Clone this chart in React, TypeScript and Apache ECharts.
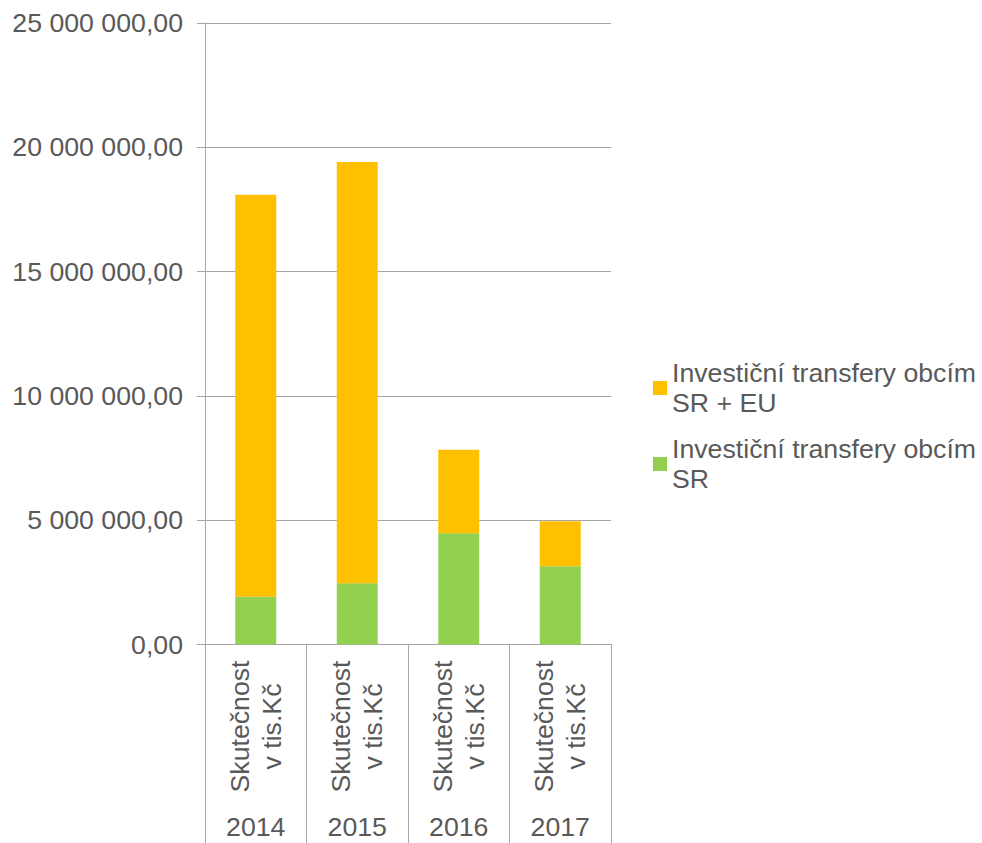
import React, { useEffect, useRef } from "react";
import * as echarts from "echarts";

const categories = ["Skutečnost\nv tis.Kč", "Skutečnost\nv tis.Kč", "Skutečnost\nv tis.Kč", "Skutečnost\nv tis.Kč"];
const years = ["2014", "2015", "2016", "2017"];
const nameSR = "Investiční transfery obcím SR";
const nameSREU = "Investiční transfery obcím SR + EU";
const valuesSR = [1924000, 2463000, 4475000, 3147000];
const valuesSREU = [16166000, 16947000, 3355000, 1813000];
const yTicks = { min: 0, max: 25000000, interval: 5000000 };

const FONT = "'Liberation Sans', Arial, sans-serif";
const TEXT = "#595959";
const LINE = "#a6a6a6";

function fmt(v: number): string {
  return Math.round(v).toString().replace(/\B(?=(\d{3})+(?!\d))/g, " ") + ",00";
}

export default function App() {
  const ref = useRef<HTMLDivElement>(null);
  useEffect(() => {
    if (!ref.current) return;
    const chart = echarts.init(ref.current, undefined, { renderer: "svg" });
    chart.setOption({
      animation: false,
      backgroundColor: "#ffffff",
      textStyle: { fontFamily: FONT },
      grid: { left: 205, right: 371, top: 23, bottom: 198.5, containLabel: false },
      legend: {
        orient: "vertical",
        left: 653,
        top: 343,
        padding: 0,
        itemWidth: 14,
        itemHeight: 14,
        itemGap: -14,
        icon: "rect",
        data: [nameSREU, nameSR],
        formatter: (n: string) => n.replace("obcím ", "obcím\n"),
        textStyle: {
          color: TEXT,
          fontSize: 26.7,
          fontFamily: FONT,
          lineHeight: 30,
          padding: [30, 0, 0, 0],
        },
      },
      xAxis: [
        {
          type: "category",
          data: categories,
          position: "bottom",
          axisLine: { show: true, lineStyle: { color: LINE, width: 1 } },
          axisTick: { show: true, length: 199, lineStyle: { color: LINE, width: 1 } },
          axisLabel: {
            interval: 0,
            rotate: 90,
            align: "center",
            verticalAlign: "middle",
            margin: 82,
            color: TEXT,
            fontSize: 26.7,
            fontFamily: FONT,
            lineHeight: 32,
          },
        },
        {
          type: "category",
          data: years,
          position: "bottom",
          gridIndex: 0,
          axisLine: { show: false },
          axisTick: { show: false },
          axisLabel: {
            interval: 0,
            margin: 182,
            verticalAlign: "middle",
            color: TEXT,
            fontSize: 26.7,
            fontFamily: FONT,
          },
        },
      ],
      yAxis: {
        type: "value",
        min: yTicks.min,
        max: yTicks.max,
        interval: yTicks.interval,
        axisLine: { show: true, lineStyle: { color: LINE, width: 1 } },
        axisTick: { show: true, length: 8, lineStyle: { color: LINE, width: 1 } },
        splitLine: { show: true, lineStyle: { color: LINE, width: 1 } },
        axisLabel: {
          margin: 22,
          color: TEXT,
          fontSize: 26.7,
          fontFamily: FONT,
          formatter: (v: number) => fmt(v),
        },
      },
      series: [
        {
          name: nameSR,
          type: "bar",
          stack: "total",
          xAxisIndex: 0,
          barWidth: 41,
          data: valuesSR,
          itemStyle: { color: "#92d050" },
        },
        {
          name: nameSREU,
          type: "bar",
          stack: "total",
          xAxisIndex: 0,
          barWidth: 41,
          data: valuesSREU,
          itemStyle: { color: "#ffc000" },
        },
      ],
    });
    return () => chart.dispose();
  }, []);
  return (
    <div
      ref={ref}
      style={{ position: "fixed", left: 0, top: 0, width: 982, height: 843, background: "#fff" }}
    />
  );
}
